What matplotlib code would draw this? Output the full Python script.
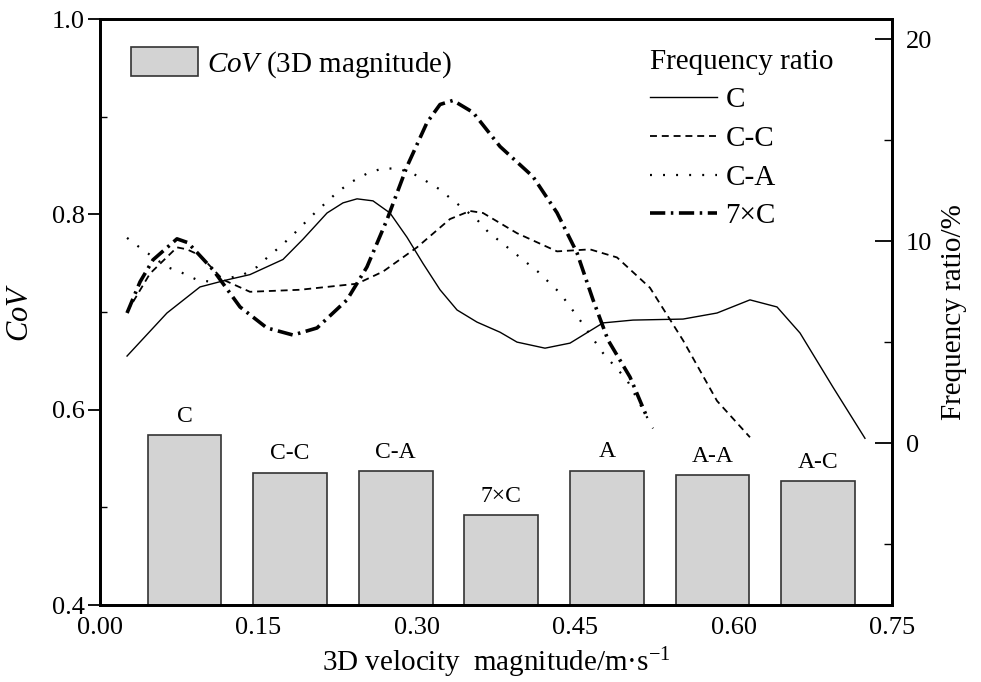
import matplotlib
matplotlib.use("Agg")
import matplotlib.pyplot as plt
from matplotlib.ticker import MultipleLocator

plt.rcParams['font.family'] = ['Liberation Serif', 'DejaVu Serif']
plt.rcParams['mathtext.fontset'] = 'custom'
plt.rcParams['mathtext.rm'] = 'Liberation Serif'
plt.rcParams['mathtext.it'] = 'Liberation Serif:italic'
plt.rcParams['lines.scale_dashes'] = False

# bars: CoV of 3D velocity magnitude per case
cases = ['C', 'C-C', 'C-A', '7×C', 'A', 'A-A', 'A-C']
bar_x = [0.08, 0.18, 0.28, 0.38, 0.48, 0.58, 0.68]
cov = [0.574, 0.5355, 0.537, 0.492, 0.5375, 0.5326, 0.5265]

# frequency ratio curves (%)
c_x = [0.0256, 0.0634, 0.0947, 0.1203, 0.1420, 0.1733, 0.1922, 0.2150, 0.2301,
       0.2434, 0.2585, 0.2746, 0.2907, 0.3059, 0.3220, 0.3381, 0.3570, 0.3788,
       0.3949, 0.4214, 0.4451, 0.4763, 0.5047, 0.5521, 0.5843, 0.6155, 0.6411,
       0.6629, 0.6941, 0.7244]
c_y = [4.32, 6.45, 7.74, 8.09, 8.35, 9.1, 10.1, 11.4, 11.9,
       12.1, 12.0, 11.4, 10.2, 8.9, 7.6, 6.6, 6.0, 5.5,
       5.01, 4.71, 4.96, 5.96, 6.10, 6.15, 6.45, 7.10, 6.75,
       5.46, 2.78, 0.25]

cc_x = [0.0256, 0.0473, 0.0729, 0.0824, 0.0947, 0.1165, 0.1420, 0.1894, 0.2434,
        0.2680, 0.3002, 0.3314, 0.3504, 0.3627, 0.3949, 0.4328, 0.4640, 0.4896,
        0.5208, 0.5521, 0.5843, 0.6155]
cc_y = [6.5, 8.4, 9.7, 9.6, 9.3, 8.1, 7.5, 7.6, 7.9,
        8.5, 9.7, 11.1, 11.5, 11.4, 10.4, 9.5, 9.6, 9.2,
        7.7, 5.1, 2.1, 0.3]

ca_x = [0.0256, 0.0379, 0.0634, 0.0777, 0.0919, 0.1061, 0.1354, 0.1487, 0.1591,
        0.1705, 0.1818, 0.1922, 0.2036, 0.2150, 0.2254, 0.2386, 0.2528, 0.2670,
        0.2822, 0.2964, 0.3097, 0.3220, 0.3333, 0.3456, 0.3570, 0.3674, 0.3911,
        0.4148, 0.4356, 0.4545, 0.4763, 0.4991, 0.5237]
ca_y = [10.17, 9.68, 8.73, 8.44, 8.09, 7.99, 8.34, 8.73, 9.23,
        9.73, 10.27, 10.82, 11.41, 11.96, 12.46, 12.95, 13.35, 13.60,
        13.60, 13.35, 12.95, 12.56, 12.06, 11.56, 11.07, 10.47, 9.48,
        8.49, 7.44, 6.10, 4.47, 3.13, 0.74]

c7_x = [0.0256, 0.0379, 0.0502, 0.0729, 0.0833, 0.1070, 0.1326, 0.1581, 0.1828,
        0.2055, 0.2339, 0.2528, 0.2718, 0.2907, 0.3097, 0.3220, 0.3343, 0.3532,
        0.3788, 0.4100, 0.4328, 0.4517, 0.4669, 0.4811, 0.5019, 0.5180]
c7_y = [6.45, 7.99, 9.08, 10.12, 9.93, 8.59, 6.75, 5.71, 5.36,
        5.71, 7.10, 8.73, 11.07, 13.70, 15.88, 16.77, 16.97, 16.38,
        14.69, 13.20, 11.41, 9.43, 7.10, 5.11, 3.28, 1.29]

fig = plt.figure(figsize=(9.81, 6.82), dpi=100)
ax = fig.add_axes([100 / 981, 1 - 605 / 682, 792 / 981, 586 / 682])
ax2 = ax.twinx()

bars = ax.bar(bar_x, cov, width=0.07, color='#d3d3d3', edgecolor='#333333',
              linewidth=1.2, zorder=2)
for x, h, name in zip(bar_x, cov, cases):
    ax.annotate(name, (x, h), xytext=(0, 6), textcoords='offset points',
                ha='center', va='bottom', fontsize=17)

l1, = ax2.plot(c_x, c_y, color='black', lw=1.0, label='C')
l2, = ax2.plot(cc_x, cc_y, color='black', lw=1.3, dashes=(5, 3.5), label='C-C')
l3, = ax2.plot(ca_x, ca_y, color='black', lw=1.6, dashes=(1.4, 8), label='C-A')
l4, = ax2.plot(c7_x, c7_y, color='black', lw=2.6, dashes=(11, 4, 1.8, 4), label='7×C')

ax.set_xlim(0, 0.75)
ax.set_ylim(0.4, 1.0)
ax2.set_ylim(-8, 21)
ax.set_xticks([0.0, 0.15, 0.30, 0.45, 0.60, 0.75])
ax.set_xticklabels(['0.00', '0.15', '0.30', '0.45', '0.60', '0.75'])
ax.yaxis.set_major_locator(MultipleLocator(0.2))
ax.yaxis.set_minor_locator(MultipleLocator(0.1))
ax.set_yticklabels(['%.1f' % v for v in ax.get_yticks()])
ax2.yaxis.set_major_locator(MultipleLocator(10))
ax2.yaxis.set_minor_locator(MultipleLocator(5))

ax.tick_params(axis='x', length=0, labelsize=19, pad=9)
ax.tick_params(axis='y', which='major', direction='out', length=9, width=1.3,
               labelsize=19, pad=2)
ax.tick_params(axis='y', which='minor', direction='in', length=5, width=1.0)
ax2.tick_params(axis='y', which='major', direction='in', length=12, width=1.3,
                labelsize=19, pad=10)
ax2.tick_params(axis='y', which='minor', direction='in', length=6, width=1.0)

for a in (ax, ax2):
    for s in a.spines.values():
        s.set_linewidth(2)

ax.set_xlabel(r'3D velocity  magnitude/m·s$^{-1}$', fontsize=21, labelpad=4)
ax.set_ylabel(r'$\it{CoV}$', fontsize=22, labelpad=12)
ax2.set_ylabel('Frequency ratio/%', fontsize=21, labelpad=6)

leg1 = ax2.legend([bars], [r'$\it{CoV}$ (3D magnitude)'], loc='upper left',
                  bbox_to_anchor=(0.006, 0.997), frameon=False, fontsize=21,
                  handlelength=2.3, handleheight=1.15, handletextpad=0.3)
ax2.add_artist(leg1)
leg2 = ax2.legend([l1, l2, l3, l4], ['C', 'C-C', 'C-A', '7×C'], title='Frequency ratio',
                  loc='upper left', bbox_to_anchor=(0.661, 0.994), frameon=False,
                  fontsize=21, title_fontsize=21, handlelength=2.3,
                  handletextpad=0.3, labelspacing=0.42)
leg2._legend_box.align = 'left'

fig.savefig('out.png', dpi=100)
